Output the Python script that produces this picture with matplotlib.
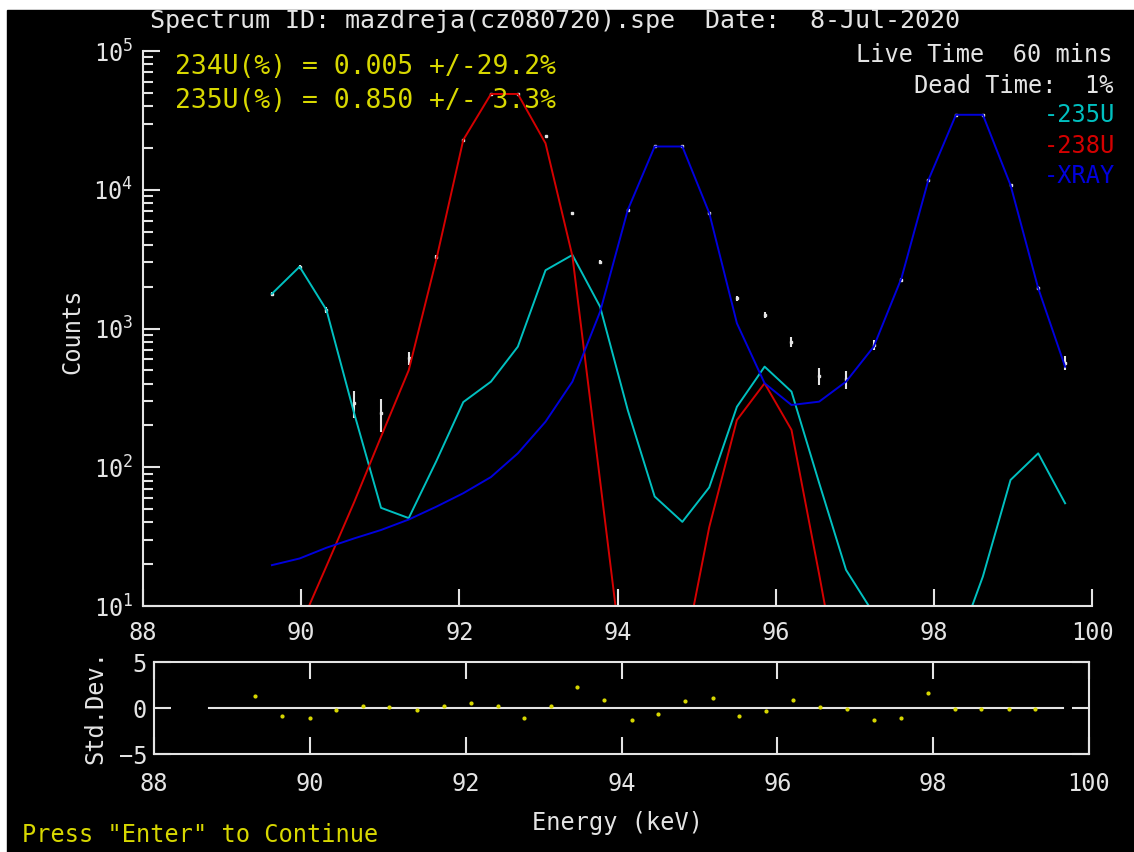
import numpy as np
import matplotlib.pyplot as plt
from matplotlib.patches import Rectangle
from matplotlib.ticker import LogLocator, NullFormatter

plt.rcParams['font.family'] = ['DejaVu Sans Mono']
plt.rcParams['mathtext.fontset'] = 'custom'
plt.rcParams['mathtext.rm'] = 'DejaVu Sans Mono'
plt.rcParams['mathtext.default'] = 'regular'

# Canais de energia (keV)
energia = [89.63, 89.98, 90.32, 90.67, 91.01, 91.36, 91.71, 92.05, 92.40, 92.74,
           93.09, 93.43, 93.78, 94.13, 94.47, 94.82, 95.16, 95.51, 95.86, 96.20,
           96.55, 96.89, 97.24, 97.59, 97.93, 98.28, 98.62, 98.97, 99.32, 99.66]

# Contagens medidas
dados = [1770, 2790, 1360, 290, 245, 615, 3300, 22900, 49000, 49000,
         24500, 6840, 3030, 7150, 20500, 20500, 6800, 1650, 1250, 800,
         455, 433, 760, 2240, 11700, 34700, 34700, 10800, 1950, 565]
erro = 65

# Componentes ajustadas
u235 = [1780, 2790, 1360, 245, 51, 43, 111, 295, 414, 740,
        2630, 3390, 1435, 258, 61.5, 40.4, 71.6, 273, 531, 351,
        77, 18.2, 8.8, 3, 3, 4.8, 16.3, 81, 126, 55]
u238 = [1.5, 7, 19.4, 56, 166, 500, 3160, 22900, 49000, 49000,
        21600, 3320, 80, 1.9, 1, 3.8, 37, 219, 403, 186,
        16.9, 1.5, 1, 1, 1, 1, 1, 1, 1, 1]
xray = [19.7, 22, 26.3, 30.7, 35.3, 42, 52, 65, 85, 126,
        213, 414, 1320, 7150, 20500, 20500, 6800, 1090, 403, 281,
        297, 414, 740, 2300, 11700, 34700, 34700, 10800, 1950, 530]

# Residuos (desvio padrao)
energia_res = [89.29, 89.64, 90.00, 90.34, 90.68, 91.02, 91.38, 91.72, 92.07, 92.41,
               92.75, 93.10, 93.43, 93.78, 94.14, 94.47, 94.82, 95.17, 95.51, 95.85,
               96.20, 96.55, 96.89, 97.24, 97.59, 97.93, 98.28, 98.62, 98.97, 99.31]
desvio = [1.27, -0.9, -1.09, -0.18, 0.18, 0.1, -0.18, 0.25, 0.54, 0.18,
          -1.12, 0.18, 2.28, 0.9, -1.27, -0.69, 0.72, 1.09, -0.9, -0.36,
          0.9, 0.14, -0.1, -1.27, -1.09, 1.67, -0.14, -0.1, -0.1, -0.14]
linha_zero = [88.7, 99.66]

xticks = [88, 90, 92, 94, 96, 98, 100]

branco = '#e4e4e4'
amarelo = '#d8d800'
ciano = '#00c0c0'
vermelho = '#d40000'
azul = '#0000dc'
fs = 17

W, H = 1134, 852
fig = plt.figure(figsize=(W / 100, H / 100), dpi=100, facecolor='white')
fig.add_artist(Rectangle((7 / W, 0), 1, (H - 10) / H, transform=fig.transFigure,
                         color='black', zorder=-10))

# Grafico principal
ax = fig.add_axes([143 / W, (H - 606) / H, 949 / W, 555 / H])
ax.set_facecolor('black')
ax.errorbar(energia, dados, yerr=erro, fmt='s', color=branco, ms=2,
            elinewidth=1.5, capsize=0, zorder=1)
ax.plot(energia, u235, color=ciano, lw=1.4, zorder=2)
ax.plot(energia, u238, color=vermelho, lw=1.4, zorder=2)
ax.plot(energia, xray, color=azul, lw=1.4, zorder=2)
ax.set_yscale('log')
ax.set_xlim(88, 100)
ax.set_ylim(10, 1e5)
ax.set_xticks(xticks)
ax.yaxis.set_minor_locator(LogLocator(base=10, subs=np.arange(2, 10), numticks=20))
ax.yaxis.set_minor_formatter(NullFormatter())
for s in ['top', 'right']:
    ax.spines[s].set_visible(False)
for s in ['left', 'bottom']:
    ax.spines[s].set_color(branco)
    ax.spines[s].set_linewidth(1.5)
ax.tick_params(axis='both', which='both', direction='in', colors=branco,
               labelsize=fs, width=1.5)
ax.tick_params(axis='x', length=12, pad=11)
ax.tick_params(axis='y', which='major', length=12, pad=7)
ax.tick_params(axis='y', which='minor', length=7)

# Residuos
ax2 = fig.add_axes([154 / W, (H - 754) / H, 935 / W, 92 / H])
ax2.set_facecolor('black')
ax2.plot(linha_zero, [0, 0], color=branco, lw=1.5)
ax2.plot(energia_res, desvio, '.', color=amarelo, ms=4)
ax2.set_xlim(88, 100)
ax2.set_ylim(-5, 5)
ax2.set_xticks(xticks)
ax2.set_yticks([-5, 0, 5])
for s in ax2.spines.values():
    s.set_color(branco)
    s.set_linewidth(1.5)
ax2.tick_params(direction='in', top=True, right=True, length=12, width=1.5,
                colors=branco, labelsize=fs)
ax2.tick_params(axis='x', pad=13)
ax2.tick_params(axis='y', pad=5)

# Textos
def texto(x, y, s, cor=branco, **kw):
    fig.text(x / W, 1 - y / H, s, color=cor, fontsize=kw.pop('size', fs),
             va='center', **kw)

texto(150, 21, 'Spectrum ID: mazdreja(cz080720).spe  Date:  8-Jul-2020', size=18)
texto(1113, 55, 'Live Time  60 mins', ha='right')
texto(1113, 86, 'Dead Time:  1%', ha='right')
texto(175, 67, '234U(%) = 0.005 +/-29.2%', cor=amarelo, size=19)
texto(175, 101, '235U(%) = 0.850 +/- 3.3%', cor=amarelo, size=19)
texto(1115, 115, '-235U', cor=ciano, ha='right')
texto(1115, 146, '-238U', cor=vermelho, ha='right')
texto(1115, 176, '-XRAY', cor=azul, ha='right')
texto(72, 331, 'Counts', rotation=90, ha='center')
texto(95, 707, 'Std.Dev.', rotation=90, ha='center')
texto(618, 823, 'Energy (keV)', ha='center')
texto(22, 835, 'Press "Enter" to Continue', cor=amarelo)

plt.savefig('out.png', dpi=100, facecolor=fig.get_facecolor())
